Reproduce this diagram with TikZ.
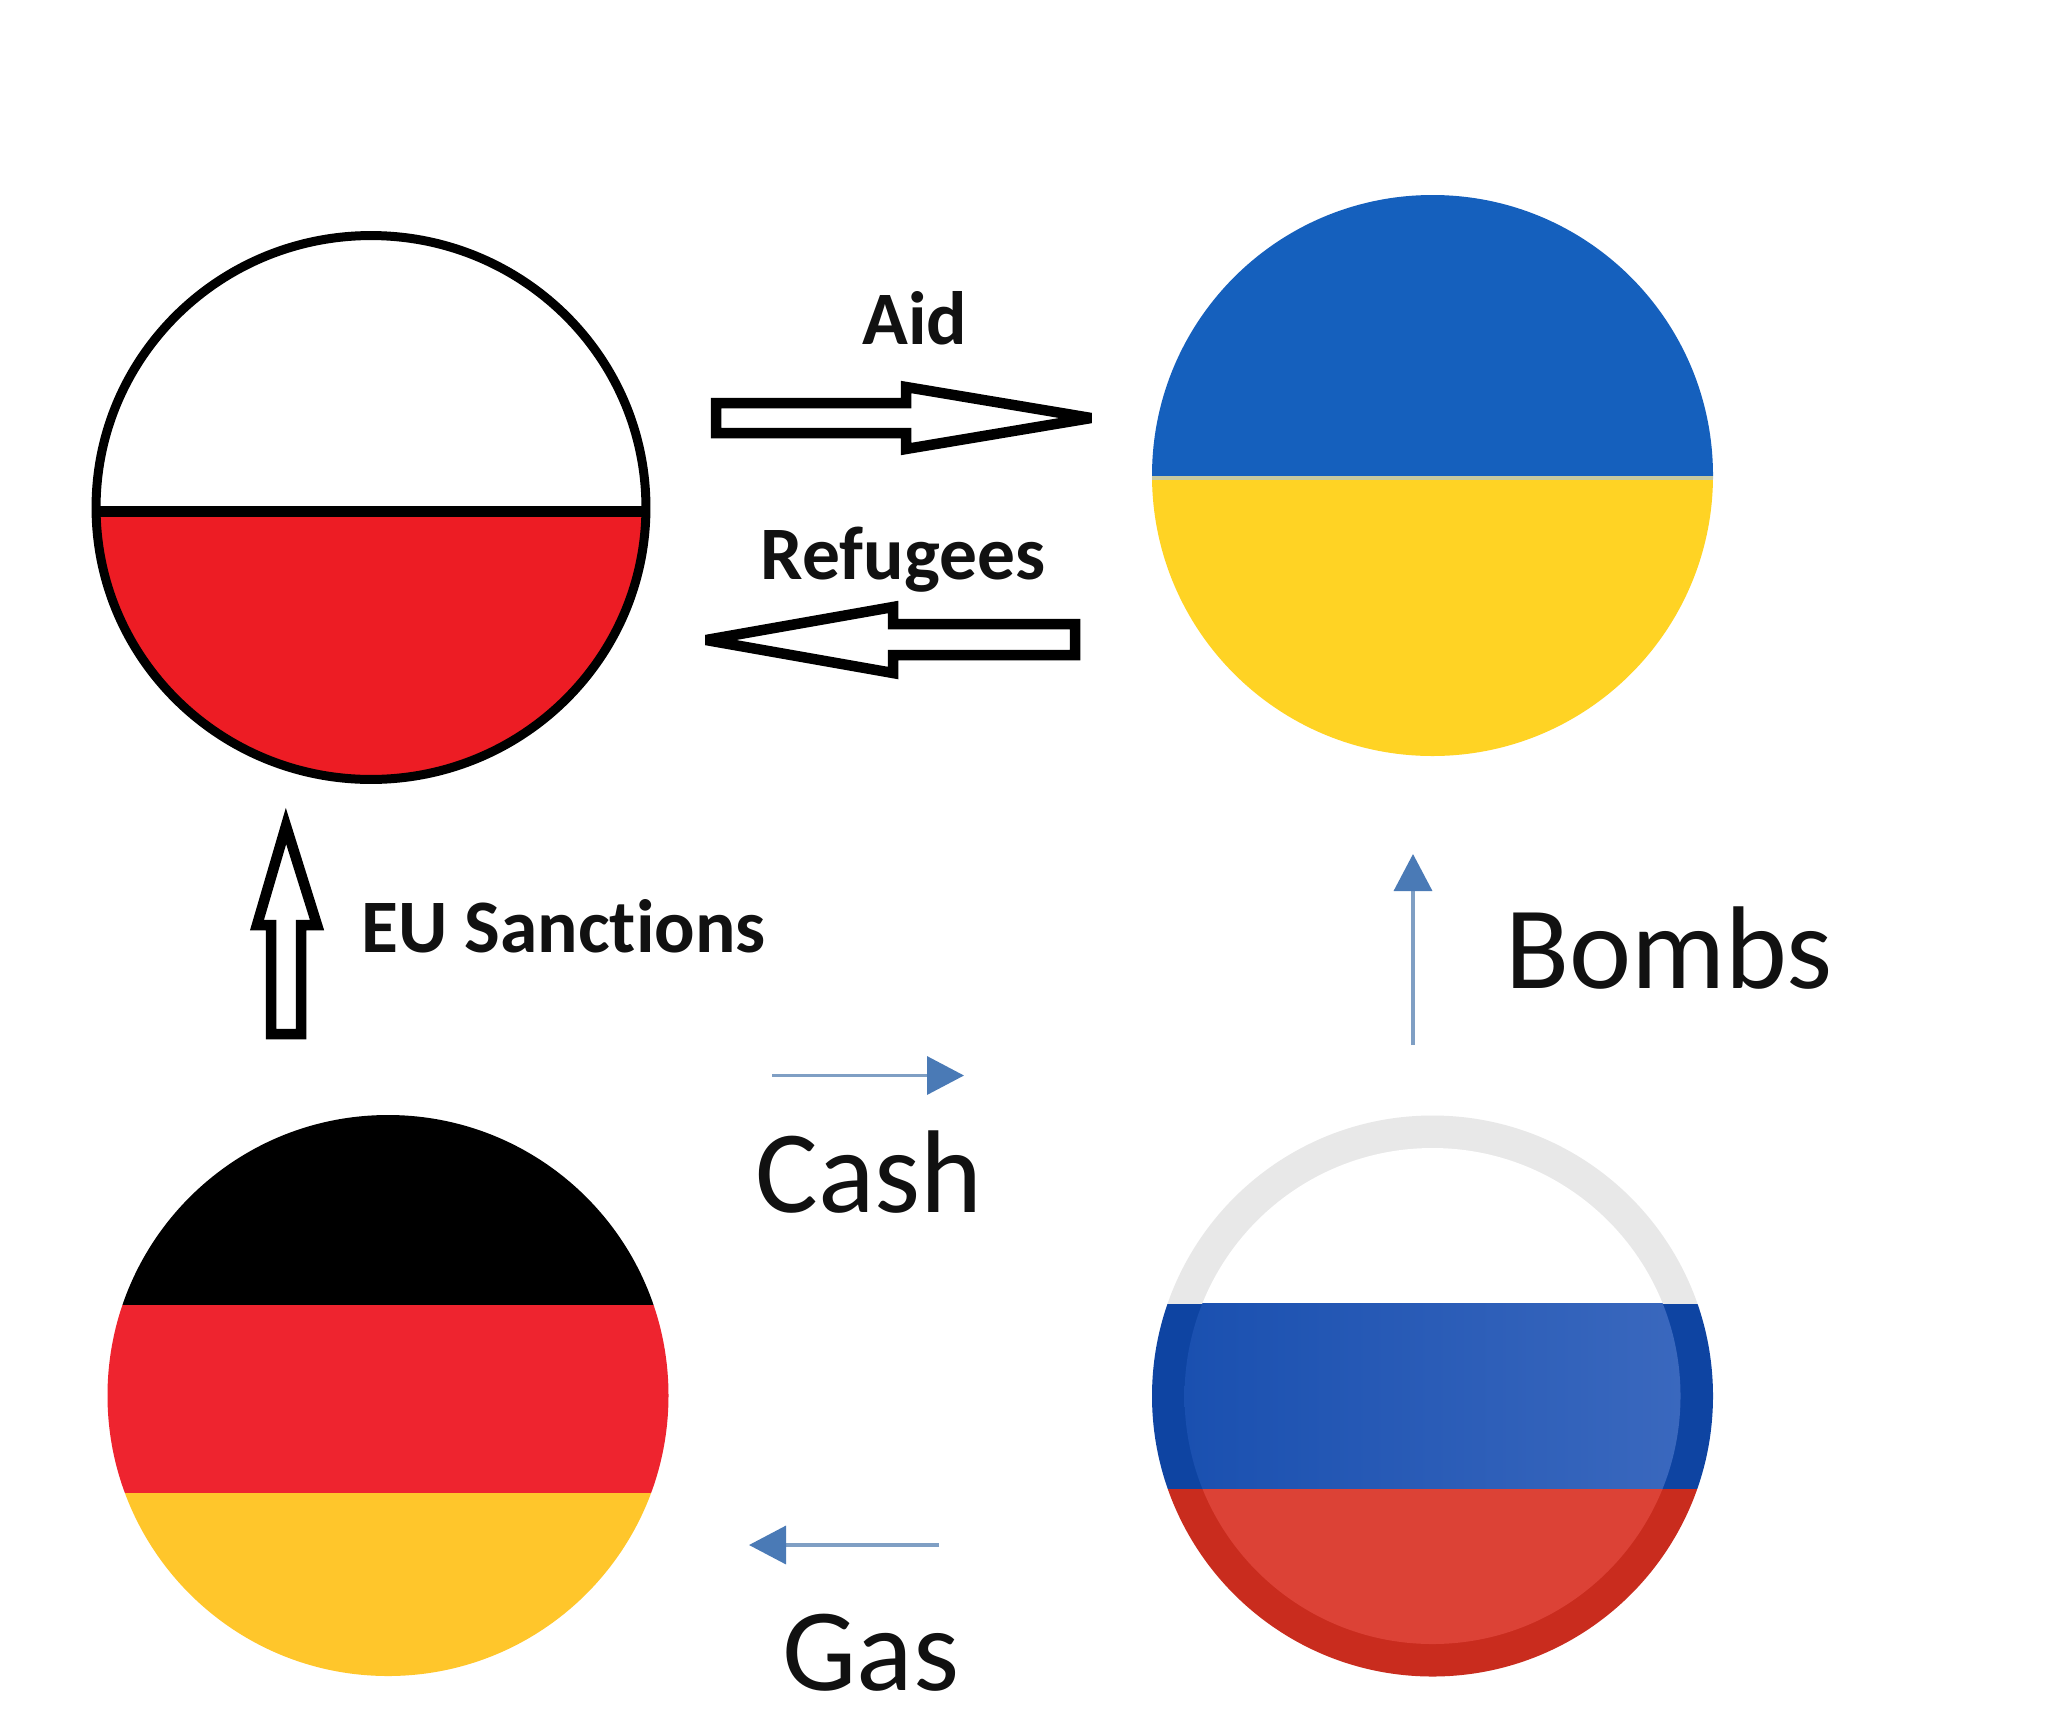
\documentclass[tikz,border=0pt]{standalone}
\usepackage{fontspec}
\setmainfont{Carlito}[Ligatures=NoCommon]
\usetikzlibrary{arrows.meta,shapes.geometric}
\definecolor{plred}{HTML}{ED1C24}
\definecolor{uablue}{HTML}{1560BD}
\definecolor{uagold}{HTML}{FFD324}
\definecolor{deblack}{HTML}{000000}
\definecolor{dered}{HTML}{EE242F}
\definecolor{degold}{HTML}{FFC62B}
\definecolor{ruringgrey}{HTML}{E8E8E8}
\definecolor{ruoblue}{HTML}{0E44A2}
\definecolor{ruiblueL}{HTML}{1A50B0}
\definecolor{ruiblueM}{HTML}{1F55B2}
\definecolor{ruiblueR}{HTML}{3A68BE}
\definecolor{ruored}{HTML}{C92C1E}
\definecolor{ruired}{HTML}{DC4236}
\definecolor{thinline}{HTML}{7F9FC4}
\definecolor{thinhead}{HTML}{4A7AB6}
\definecolor{inktext}{HTML}{111111}
\tikzset{
  flag/.style={circle,minimum size=11.22cm,inner sep=0pt,outer sep=0pt},
  blockarrow/.style={draw=black,line width=0.21cm,fill=white,line join=miter,miter limit=4},
  thinarrow/.style={draw=thinline,line width=0.07cm,-{Triangle[length=0.74cm,width=0.76cm,color=thinhead]}},
  boldlabel/.style={text=inktext,font=\bfseries\fontsize{43}{47}\selectfont,inner sep=0pt},
  biglabel/.style={text=inktext,font=\fontsize{67}{70}\selectfont,inner sep=0pt}
}
\begin{document}
\begin{tikzpicture}[x=0.02cm,y=-0.02cm]
\useasboundingbox[fill=white] (0,0) rectangle (2048,1731);
% Poland
\begin{scope}
  \clip (371,507.5) ellipse[x radius=275,y radius=272];
  \fill[white] (80,220) rectangle (660,511);
  \fill[plred] (80,511) rectangle (660,790);
\end{scope}
\node[ellipse,inner sep=0pt,outer sep=0pt,draw=black,line width=0.18cm,minimum width=11.0cm,minimum height=10.88cm] (pl) at (371,507.5) {};
\draw[black,line width=0.22cm] (pl.west |- 0,511) -- (pl.east |- 0,511);
% Ukraine
\node[flag] (ua) at (1432.5,475.5) {};
\begin{scope}
  \clip (ua) circle[radius=280.5];
  \fill[uablue] (1140,190) rectangle (1730,476);
  \fill[uagold] (1140,480) rectangle (1730,770);
  \fill[uablue!40!uagold!60!white] (1140,476) rectangle (1730,480);
\end{scope}
% Germany
\node[flag] (de) at (388,1395.5) {};
\begin{scope}
  \clip (de) circle[radius=280.5];
  \fill[deblack] (100,1105) rectangle (680,1304.5);
  \fill[dered] (100,1304.5) rectangle (680,1493);
  \fill[degold] (100,1493) rectangle (680,1690);
\end{scope}
% Russia
\node[flag] (ru) at (1432.5,1396) {};
\begin{scope}
  \clip (ru) circle[radius=280.5];
  \fill[ruringgrey] (1140,1105) rectangle (1730,1303.5);
  \fill[ruoblue] (1140,1303.5) rectangle (1730,1489);
  \fill[ruored] (1140,1489) rectangle (1730,1690);
\end{scope}
\begin{scope}
  \clip (1432.5,1396) circle[radius=248];
  \fill[white] (1140,1105) rectangle (1730,1303.5);
  \shade[left color=ruiblueL,middle color=ruiblueM,right color=ruiblueR] (1184,1303.5) rectangle (1681,1489);
  \fill[ruired] (1140,1489) rectangle (1730,1690);
\end{scope}
% Block arrows
\draw[blockarrow] (716,403) -- (906,403) -- (906,387) -- (1091,418) -- (906,449) -- (906,433) -- (716,433) -- cycle;
\draw[blockarrow] (1075,624) -- (893,624) -- (893,607) -- (706,640) -- (893,673) -- (893,655) -- (1075,655) -- cycle;
\draw[blockarrow] (271,1034) -- (271,925) -- (257,925) -- (286,826) -- (317,925) -- (301,925) -- (301,1034) -- cycle;
% Thin arrows
\coordinate (cashs) at (772,1075.5);
\coordinate (cashe) at (964,1075.5);
\coordinate (gass) at (939,1545);
\coordinate (gase) at (749,1545);
\coordinate (bombss) at (1413,1045);
\coordinate (bombse) at (1413,854);
\draw[thinarrow] (cashs) -- (cashe);
\draw[thinarrow] (gass) -- (gase);
\draw[thinarrow] (bombss) -- (bombse);
% Labels
\node[boldlabel] (aid) at (915,318) {Aid};
\node[boldlabel] (ref) at (903,560) {Refugees};
\node[boldlabel,anchor=west] (eu) at (361,926) {EU Sanctions};
\node[biglabel] (cash) at (869,1172) {Cash};
\node[biglabel] (gas) at (871,1653) {Gas};
\node[biglabel,anchor=west] (bombs) at (1505,948) {Bombs};
\end{tikzpicture}
\end{document}
